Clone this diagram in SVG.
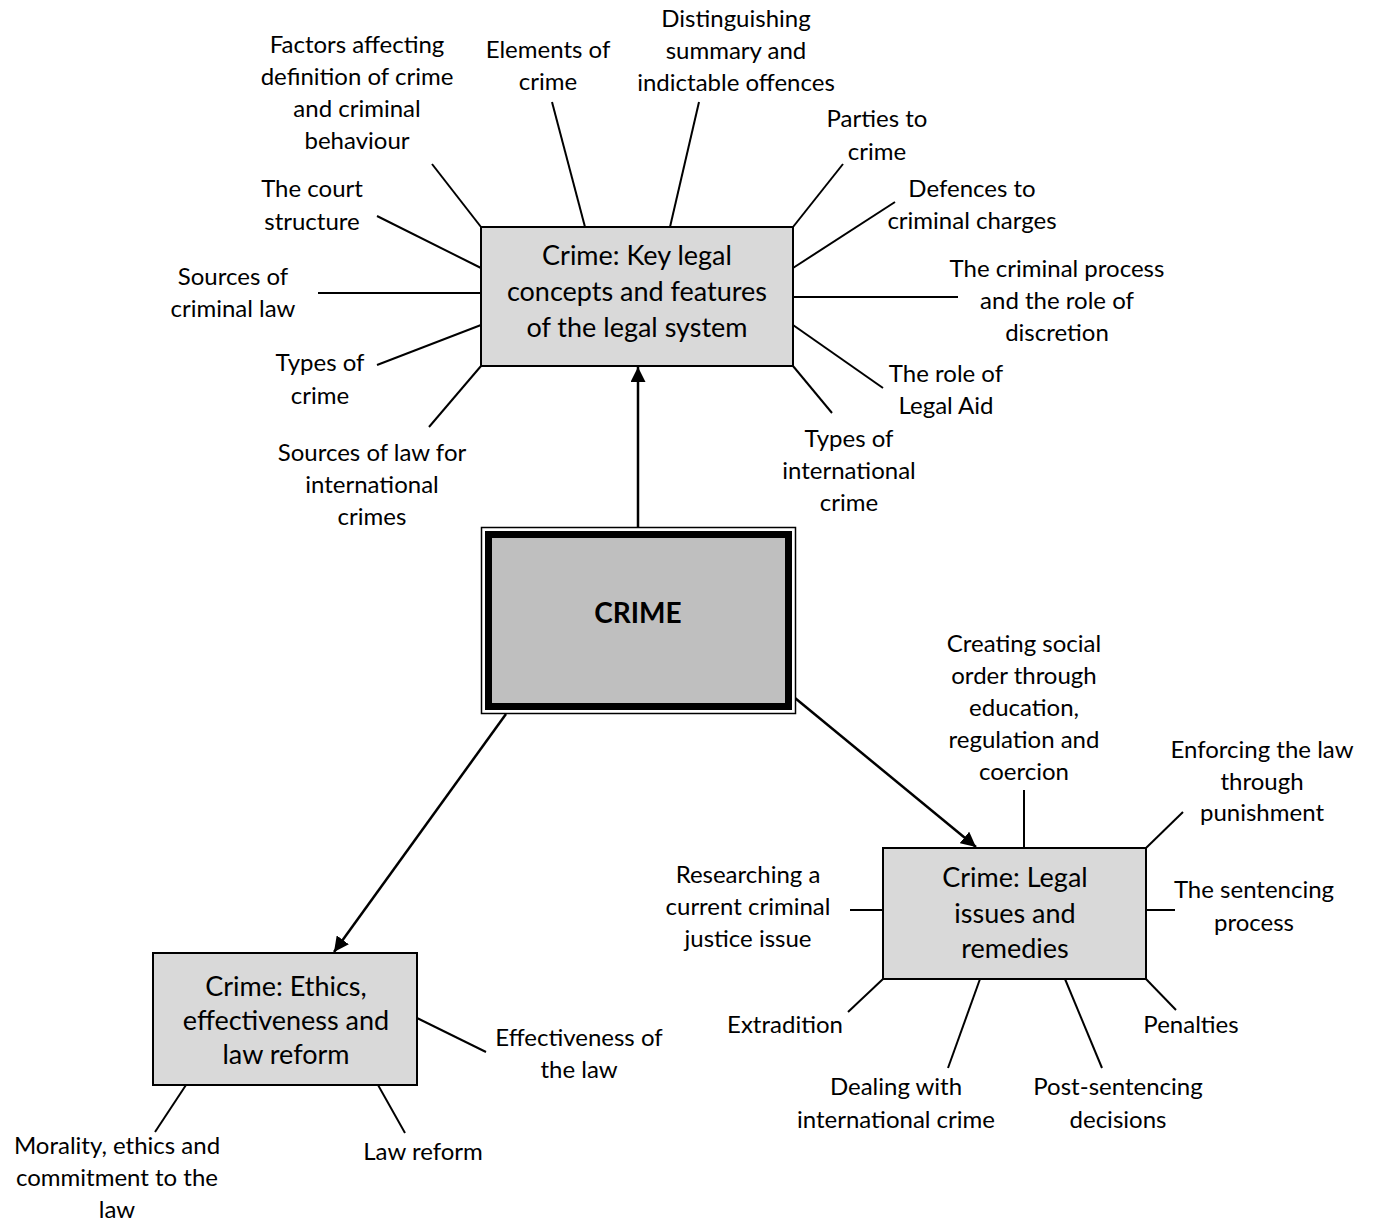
<svg xmlns="http://www.w3.org/2000/svg" width="1374" height="1226" viewBox="0 0 1374 1226">
  <defs>
    <marker id="arrow" viewBox="0 0 10 10" refX="10" refY="5" markerWidth="6" markerHeight="6" orient="auto" markerUnits="strokeWidth">
      <path d="M0,0 L10,5 L0,10 z" fill="#000"/>
    </marker>
    <style>
      text { font-family: Lato, "Open Sans", "Liberation Sans", sans-serif; fill: #000; text-anchor: middle; }
      .lbl { font-size: 24px; }
      .box-text { font-size: 27px; }
      .main-text { font-size: 28px; font-weight: bold; }
      .box { fill: #d9d9d9; stroke: #000; stroke-width: 2; }
      .spoke { stroke: #000; stroke-width: 2; fill: none; }
      .link { stroke: #000; stroke-width: 2.5; fill: none; marker-end: url(#arrow); }
    </style>
  </defs>
  <rect width="1374" height="1226" fill="#fff"/>

  <!-- arrows from the central node -->
  <g id="connectors">
    <line class="link" x1="638" y1="527" x2="638" y2="367"/>
    <line class="link" x1="506" y1="714" x2="334" y2="952"/>
    <line class="link" x1="795" y1="698" x2="976" y2="847"/>

    <!-- spokes around the legal concepts box -->
    <line class="spoke" x1="432" y1="164" x2="481" y2="227"/>
    <line class="spoke" x1="377" y1="216" x2="481" y2="268"/>
    <line class="spoke" x1="318" y1="293" x2="481" y2="293"/>
    <line class="spoke" x1="377" y1="365" x2="481" y2="325"/>
    <line class="spoke" x1="429" y1="427" x2="481" y2="366"/>
    <line class="spoke" x1="552" y1="102" x2="585" y2="227"/>
    <line class="spoke" x1="699" y1="102" x2="670" y2="227"/>
    <line class="spoke" x1="843" y1="164" x2="793" y2="227"/>
    <line class="spoke" x1="895" y1="202" x2="793" y2="268"/>
    <line class="spoke" x1="793" y1="297" x2="958" y2="297"/>
    <line class="spoke" x1="793" y1="325" x2="883" y2="388"/>
    <line class="spoke" x1="793" y1="366" x2="832" y2="413"/>

    <!-- spokes around the legal issues box -->
    <line class="spoke" x1="1024" y1="790" x2="1024" y2="848"/>
    <line class="spoke" x1="1183" y1="812" x2="1146" y2="848"/>
    <line class="spoke" x1="1146" y1="910" x2="1175" y2="910"/>
    <line class="spoke" x1="1146" y1="979" x2="1176" y2="1010"/>
    <line class="spoke" x1="1065" y1="979" x2="1102" y2="1068"/>
    <line class="spoke" x1="980" y1="979" x2="948" y2="1068"/>
    <line class="spoke" x1="883" y1="979" x2="848" y2="1012"/>
    <line class="spoke" x1="850" y1="910" x2="883" y2="910"/>

    <!-- spokes around the ethics box -->
    <line class="spoke" x1="417" y1="1018" x2="486" y2="1052"/>
    <line class="spoke" x1="378" y1="1085" x2="405" y2="1133"/>
    <line class="spoke" x1="186" y1="1085" x2="155" y2="1132"/>
  </g>

  <!-- central node -->
  <g id="crime">
    <rect x="481.5" y="527.5" width="314" height="186" fill="#fff" stroke="#000" stroke-width="1.5"/>
    <rect x="488.5" y="534.5" width="300" height="172" fill="#bfbfbf" stroke="#000" stroke-width="7"/>
    <text class="main-text" x="638" y="623">CRIME</text>
  </g>

  <g id="key-concepts">
    <rect class="box" x="481" y="227" width="312" height="139"/>
    <text class="box-text"><tspan x="637" y="265">Crime: Key legal</tspan><tspan x="637" y="301">concepts and features</tspan><tspan x="637" y="337">of the legal system</tspan></text>
  </g>

  <g id="legal-issues">
    <rect class="box" x="883" y="848" width="263" height="131"/>
    <text class="box-text"><tspan x="1015" y="887">Crime: Legal</tspan><tspan x="1015" y="923">issues and</tspan><tspan x="1015" y="958">remedies</tspan></text>
  </g>

  <g id="ethics">
    <rect class="box" x="153" y="953" width="264" height="132"/>
    <text class="box-text"><tspan x="286" y="996">Crime: Ethics,</tspan><tspan x="286" y="1030">effectiveness and</tspan><tspan x="286" y="1064">law reform</tspan></text>
  </g>

  <!-- topic labels: legal concepts -->
  <g id="factors"><text class="lbl"><tspan x="357" y="53">Factors affecting</tspan><tspan x="357" y="85">definition of crime</tspan><tspan x="357" y="117">and criminal</tspan><tspan x="357" y="149">behaviour</tspan></text></g>
  <g id="elements"><text class="lbl"><tspan x="548" y="58">Elements of</tspan><tspan x="548" y="90">crime</tspan></text></g>
  <g id="distinguishing"><text class="lbl"><tspan x="736" y="27">Distinguishing</tspan><tspan x="736" y="59">summary and</tspan><tspan x="736" y="91">indictable offences</tspan></text></g>
  <g id="parties"><text class="lbl"><tspan x="877" y="127">Parties to</tspan><tspan x="877" y="160">crime</tspan></text></g>
  <g id="defences"><text class="lbl"><tspan x="972" y="197">Defences to</tspan><tspan x="972" y="229">criminal charges</tspan></text></g>
  <g id="criminal-process"><text class="lbl"><tspan x="1057" y="277">The criminal process</tspan><tspan x="1057" y="309">and the role of</tspan><tspan x="1057" y="341">discretion</tspan></text></g>
  <g id="legal-aid"><text class="lbl"><tspan x="946" y="382">The role of</tspan><tspan x="946" y="414">Legal Aid</tspan></text></g>
  <g id="intl-crime-types"><text class="lbl"><tspan x="849" y="447">Types of</tspan><tspan x="849" y="479">international</tspan><tspan x="849" y="511">crime</tspan></text></g>
  <g id="court-structure"><text class="lbl"><tspan x="312" y="197">The court</tspan><tspan x="312" y="230">structure</tspan></text></g>
  <g id="sources-criminal-law"><text class="lbl"><tspan x="233" y="285">Sources of</tspan><tspan x="233" y="317">criminal law</tspan></text></g>
  <g id="crime-types"><text class="lbl"><tspan x="320" y="371">Types of</tspan><tspan x="320" y="404">crime</tspan></text></g>
  <g id="intl-sources"><text class="lbl"><tspan x="372" y="461">Sources of law for</tspan><tspan x="372" y="493">international</tspan><tspan x="372" y="525">crimes</tspan></text></g>

  <!-- topic labels: legal issues -->
  <g id="social-order"><text class="lbl"><tspan x="1024" y="652">Creating social</tspan><tspan x="1024" y="684">order through</tspan><tspan x="1024" y="716">education,</tspan><tspan x="1024" y="748">regulation and</tspan><tspan x="1024" y="780">coercion</tspan></text></g>
  <g id="enforcing"><text class="lbl"><tspan x="1262" y="758">Enforcing the law</tspan><tspan x="1262" y="790">through</tspan><tspan x="1262" y="821">punishment</tspan></text></g>
  <g id="sentencing"><text class="lbl"><tspan x="1254" y="898">The sentencing</tspan><tspan x="1254" y="931">process</tspan></text></g>
  <g id="penalties"><text class="lbl" x="1191" y="1033">Penalties</text></g>
  <g id="post-sentencing"><text class="lbl"><tspan x="1118" y="1095">Post-sentencing</tspan><tspan x="1118" y="1128">decisions</tspan></text></g>
  <g id="intl-dealing"><text class="lbl"><tspan x="896" y="1095">Dealing with</tspan><tspan x="896" y="1128">international crime</tspan></text></g>
  <g id="extradition"><text class="lbl" x="785" y="1033">Extradition</text></g>
  <g id="researching"><text class="lbl"><tspan x="748" y="883">Researching a</tspan><tspan x="748" y="915">current criminal</tspan><tspan x="748" y="947">justice issue</tspan></text></g>

  <!-- topic labels: ethics -->
  <g id="effectiveness"><text class="lbl"><tspan x="579" y="1046">Effectiveness of</tspan><tspan x="579" y="1078">the law</tspan></text></g>
  <g id="law-reform"><text class="lbl" x="423" y="1160">Law reform</text></g>
  <g id="morality"><text class="lbl"><tspan x="117" y="1154">Morality, ethics and</tspan><tspan x="117" y="1186">commitment to the</tspan><tspan x="117" y="1218">law</tspan></text></g>
</svg>
